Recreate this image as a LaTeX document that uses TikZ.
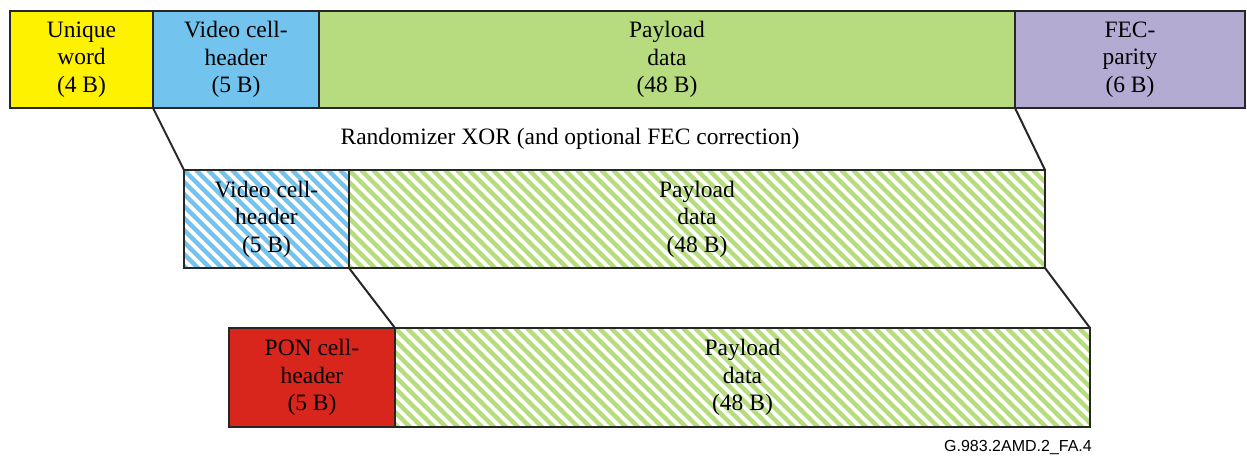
\documentclass[tikz,border=0pt]{standalone}
\usepackage{fontspec}
\setmainfont{Liberation Serif}
\newfontfamily\labelfont{Liberation Sans}
\definecolor{cyel}{HTML}{FFF200}
\definecolor{cblue}{HTML}{72C4EE}
\definecolor{cgreen}{HTML}{B7DC80}
\definecolor{clav}{HTML}{B4ABD3}
\definecolor{cred}{HTML}{D8261D}
\tikzset{
  field/.style={draw=black!85, line width=2.4pt, outer sep=0pt, inner sep=0pt, anchor=north west,
    align=center, font=\fontsize{23.5}{27.5}\selectfont},
  hatch/.style={path picture={\foreach \i in {-10,...,60}{\draw[#1,line width=4.3pt]
      ([xshift=\i*12pt]path picture bounding box.north west) -- ++(120pt,-120pt);}}},
  link/.style={draw=black!85, line width=2pt},
}
\begin{document}
\begin{tikzpicture}[x=1pt,y=-1pt]
\useasboundingbox (0,0) rectangle (1247,456);
% top row
\node[field, fill=cyel, minimum width=143pt, minimum height=97pt] (uw) at (10,11) {Unique\\word\\(4 B)};
\node[field, fill=cblue, minimum width=166pt, minimum height=97pt] (vh1) at (153,11) {Video cell-\\header\\(5 B)};
\node[field, fill=cgreen, minimum width=696pt, minimum height=97pt] (pd1) at (319,11) {Payload\\data\\(48 B)};
\node[field, fill=clav, minimum width=230pt, minimum height=97pt] (fec) at (1015,11) {FEC-\\parity\\(6 B)};
% middle row
\node[field, hatch=cblue, minimum width=165pt, minimum height=98pt] (vh2) at (184,170) {Video cell-\\header\\(5 B)};
\node[field, hatch=cgreen, minimum width=696pt, minimum height=98pt] (pd2) at (349,170) {Payload\\data\\(48 B)};
% bottom row
\node[field, fill=cred, minimum width=166pt, minimum height=99pt] (pon) at (229,328) {PON cell-\\header\\(5 B)};
\node[field, hatch=cgreen, minimum width=695pt, minimum height=99pt] (pd3) at (395,328) {Payload\\data\\(48 B)};
% connectors
\draw[link] (vh1.south west) -- (vh2.north west);
\draw[link] (fec.south west) -- (pd2.north east);
\draw[link] (vh2.south east) -- (pon.north east);
\draw[link] (pd2.south east) -- (pd3.north east);
\node[font=\fontsize{23.5}{27.5}\selectfont] (rx) at (570,139) {Randomizer XOR (and optional FEC correction)};
\node[font=\labelfont\fontsize{16}{18}\selectfont, anchor=east, inner sep=0pt] (lbl) at (1092,447) {G.983.2AMD.2\_FA.4};
\end{tikzpicture}
\end{document}
